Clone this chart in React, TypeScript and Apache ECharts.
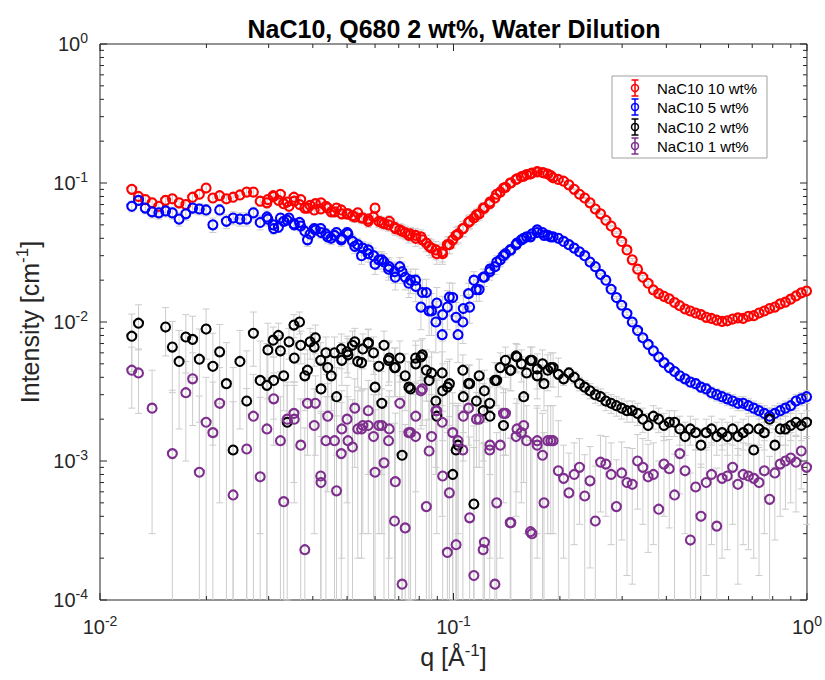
import React, { useEffect, useRef } from 'react';
import * as echarts from 'echarts';

// q grid of the long-distance configuration (Å^-1)
const qLow = [0.0123, 0.01285, 0.01343, 0.01404, 0.01467, 0.01533, 0.01602, 0.01674, 0.01749, 0.01828,
  0.0191, 0.01996, 0.02086, 0.0218, 0.02278, 0.0238, 0.02488, 0.026, 0.02716, 0.02839,
  0.02966, 0.031, 0.03239, 0.03385, 0.03537, 0.03697, 0.03863, 0.04037, 0.04219, 0.04408,
  0.04607, 0.04814, 0.05031, 0.05257, 0.05494, 0.05741, 0.05999, 0.06269, 0.06551, 0.06846,
  0.07154, 0.07476, 0.07812, 0.08164, 0.08531, 0.08915, 0.09317, 0.09736, 0.1017, 0.1063,
  0.1111, 0.1161, 0.1213, 0.1268, 0.1325, 0.1385, 0.1447, 0.1512, 0.158, 0.1651,
  0.1725, 0.1803, 0.1884];

// q grid of the short-distance configuration (Å^-1)
const qHigh = [0.02985, 0.03089, 0.03197, 0.03309, 0.03425, 0.03545, 0.03669, 0.03797, 0.0393, 0.04067,
  0.0421, 0.04357, 0.0451, 0.04668, 0.04831,
  0.05, 0.0518, 0.0536, 0.0554, 0.0574, 0.0594, 0.0615, 0.0636, 0.0658, 0.0681,
  0.0705, 0.073, 0.0756, 0.0782, 0.0809, 0.0838, 0.0867, 0.0897, 0.0929, 0.0961,
  0.0995, 0.103, 0.1066, 0.1103, 0.1142, 0.1182, 0.1223, 0.1266, 0.131, 0.1356,
  0.1403, 0.1453, 0.1503, 0.1556, 0.161, 0.1667, 0.1725, 0.1786, 0.1848, 0.1913,
  0.198, 0.2049, 0.2121, 0.2195, 0.2272, 0.2351, 0.2433, 0.2519, 0.2607, 0.2698,
  0.2792, 0.289, 0.2991, 0.3096, 0.3204, 0.3317, 0.3433, 0.3553, 0.3677, 0.3806,
  0.3939, 0.4077, 0.422, 0.4367, 0.452, 0.4678, 0.4842, 0.5012, 0.5187, 0.5369,
  0.5556, 0.5751, 0.5952, 0.6161, 0.6376, 0.6599, 0.683, 0.7069, 0.7317, 0.7573,
  0.7838, 0.8112, 0.8396, 0.869, 0.8994, 0.9309, 0.9635, 0.9972];

// Intensities (cm^-1); null = point not shown on the log axis
const redLow = [0.09, 0.08, 0.076, 0.072, 0.068, 0.075, 0.077, 0.072, 0.07, 0.079,
  0.083, 0.092, 0.078, 0.081, 0.077, 0.079, 0.082, 0.086, 0.086, 0.074,
  0.072, 0.08, 0.083, 0.073, 0.079, 0.076, 0.066, 0.064, 0.072, 0.066,
  0.062, 0.064, 0.06, 0.057, 0.056, 0.053, 0.066, 0.052, 0.05, 0.047,
  0.045, 0.042, 0.042, 0.039, 0.035, 0.033, 0.031, 0.036, 0.042, 0.047,
  0.053, 0.059, 0.066, 0.073, 0.083, 0.092, 0.1, 0.107, 0.112, 0.116,
  0.121, 0.118, 0.113];
const redHigh = [0.076, 0.081, 0.075, 0.071, 0.068, 0.074, 0.07, 0.066, 0.069, 0.071,
  0.065, 0.068, 0.062, 0.066, 0.06,
  0.06, 0.058, 0.061, 0.056, 0.055, 0.057, 0.053, 0.051, 0.053, 0.048,
  0.046, 0.044, 0.043, 0.04, 0.041, 0.037, 0.034, 0.031, 0.032, 0.036,
  0.039, 0.043, 0.047, 0.052, 0.056, 0.06, 0.066, 0.071, 0.078, 0.086,
  0.093, 0.1, 0.106, 0.111, 0.115, 0.118, 0.12, 0.119, 0.116,
  0.109, 0.106, 0.103, 0.097, 0.09, 0.083, 0.078, 0.072, 0.065, 0.06,
  0.054, 0.049, 0.044, 0.038, 0.033, 0.028, 0.024, 0.021, 0.019, 0.017,
  0.016, 0.0153, 0.0147, 0.0138, 0.0131, 0.0124, 0.012, 0.0116, 0.0113, 0.0108,
  0.0106, 0.0103, 0.0101, 0.0102, 0.0105, 0.0107, 0.0106, 0.011, 0.0111, 0.0116,
  0.012, 0.0125, 0.0128, 0.0135, 0.0139, 0.0146, 0.0154, 0.0162, 0.0167];

const blueLow = [0.068, 0.075, 0.066, 0.062, 0.061, 0.063, 0.061, 0.055, 0.06, 0.066,
  0.065, 0.064, 0.05, 0.064, 0.053, 0.056, 0.055, 0.055, 0.061, 0.052,
  0.057, 0.047, 0.056, 0.054, 0.051, 0.049, 0.039, 0.047, 0.044, 0.041,
  0.042, 0.039, 0.043, 0.035, 0.03, 0.033, 0.026, 0.028, 0.024, 0.021,
  0.023, 0.019, 0.02, 0.0163, 0.012, 0.01, 0.0113, 0.0151, 0.0108, 0.01,
  0.0128, 0.0171, 0.021, 0.024, 0.027, 0.03, 0.033, 0.037, 0.04, 0.041,
  0.044, 0.042, 0.041];
const blueHigh = [0.055, 0.05, 0.048, 0.053, 0.056, 0.05, 0.052, 0.045, 0.043, 0.046,
  0.047, 0.043, 0.04, 0.044, 0.04,
  0.044, 0.038, 0.036, 0.034, 0.031, 0.03, 0.028, 0.027, 0.025, 0.023,
  0.025, 0.021, 0.02, 0.018, 0.0128, 0.0163, 0.012, 0.0137, 0.0081, 0.0128,
  0.015, 0.0081, 0.0125, 0.016, 0.02, 0.0171, 0.021, 0.023, 0.025, 0.028,
  0.031, 0.033, 0.036, 0.039, 0.041, 0.043, 0.046, 0.044, 0.042,
  0.041, 0.04, 0.038, 0.036, 0.034, 0.032, 0.03, 0.027, 0.025, 0.022,
  0.02, 0.0172, 0.015, 0.0132, 0.0115, 0.01, 0.0087, 0.0077, 0.0069, 0.0062,
  0.0056, 0.0051, 0.0047, 0.0044, 0.0041, 0.0039, 0.0037, 0.0036, 0.0034, 0.0033,
  0.0031, 0.003, 0.0029, 0.0028, 0.0027, 0.0026, 0.0026, 0.0025, 0.0024, 0.0023,
  0.0022, 0.0021, 0.0022, 0.0023, 0.0024, 0.0025, 0.0027, 0.0028, 0.0029];

const blackLow = [0.0079, 0.0098, null, null, null, 0.0092, 0.0066, 0.0052, 0.0078, 0.0075,
  0.0054, 0.0089, 0.0048, 0.0061, 0.0036, 0.0012, 0.0052, 0.0027, 0.0083, 0.0038,
  0.0035, 0.0038, 0.0062, 0.0019, 0.0095, 0.0068, 0.0045, 0.0066, 0.0033, 0.0047,
  0.006, 0.0064, 0.0058, 0.0072, 0.0051, 0.0071, 0.0034, 0.0026, 0.0053, 0.0047,
  0.0011, 0.0034, 0.0055, 0.0058, 0.0038, 0.0027, 0.0032, 0.0036, 0.0012, 0.0045,
  0.0036, 0.0027, 0.0023, 0.0021, 0.0038, 0.0018, 0.0045, 0.0056, 0.0029, 0.0053,
  0.0041, 0.0036, 0.0047];
const blackHigh = [0.0063, 0.0074, 0.008, 0.0041, 0.0072, 0.0055, 0.01, 0.0041, 0.0072, 0.0077,
  0.0053, 0.006, 0.0041, 0.0029, 0.0053,
  0.0061, 0.0068, 0.0052, 0.0064, 0.007, 0.006, 0.0048, 0.0068, 0.0055, 0.0047,
  0.0055, 0.0041, 0.0033, 0.005, 0.0056, 0.0045, 0.0043, 0.0021, 0.0043, 0.0034,
  0.0008, 0.0013, 0.0029, 0.0036, 0.00049, 0.0041, 0.0032, 0.0026, 0.0038, 0.0047,
  0.0053, 0.0045, 0.0057, 0.005, 0.0043, 0.0053, 0.0046, 0.005, 0.0045, 0.0047,
  0.0042, 0.0039, 0.0043, 0.004, 0.0036, 0.0034, 0.0032, 0.003, 0.0029, 0.0027,
  0.0026, 0.0025, 0.0024, 0.0023, 0.0023, 0.0022, 0.002, 0.0018, 0.0021, 0.002,
  0.0018, 0.0019, 0.0019, 0.0017, 0.0015, 0.0017, 0.0016, 0.0013, 0.0016, 0.0017,
  0.0015, 0.0016, 0.0015, 0.0017, 0.0015, 0.0016, 0.0017, 0.0012, 0.0017, 0.0016,
  0.002, 0.0013, 0.0017, 0.0017, 0.0018, 0.0019, 0.0018, 0.0019];

const purpleLow = [0.0045, 0.0043, null, 0.0024, null, null, 0.00113, null, 0.0031, 0.0039,
  0.00083, 0.0019, 0.0016, 0.0026, null, 0.00057, null, 0.00122, 0.0021, 0.00077,
  0.0017, 0.0028, 0.0014, 0.002, 0.0022, 0.0013, 0.0026, 0.0018, 0.0007, 0.0021,
  0.0014, 0.00113, 0.0014, 0.0024, 0.0017, 0.0023, 0.00083, 0.0018, 0.0014, 0.00071,
  0.00013, 0.0016, 0.0015, 0.0033, 0.00118, 0.0023, 0.00078, 0.00059, 0.00025, 0.0012,
  0.00039, 0.002, 0.00023, 0.0013, 0.0005, 0.0022, 0.00036, 0.0017, 0.0018, 0.00031,
  0.0014, 0.0005, 0.0014];
const purpleHigh = [null, null, null, 0.00051, null, 0.002, null, 0.00023, null, 0.0026,
  0.00078, 0.0014, null, 0.00061, 0.0017,
  0.002, 0.00126, 0.0017, 0.0018, 0.0018, 0.0015, 0.0018, 0.00097, 0.0017, 0.00037,
  0.0026, 0.00033, 0.0016, 0.0021, 0.0032, 0.00047, 0.0015, 0.0023, 0.0019, 0.00022,
  0.0016, 0.0014, 0.0021, 0.0024, 0.00015, 0.002, 0.00026, 0.0012, 0.00013, 0.0013,
  0.0022, 0.00036, 0.0015, 0.0016, 0.0014, 0.0003, 0.0013, 0.0011, 0.0014, 0.0014,
  0.00085, 0.00075, 0.00059, 0.0008, 0.0009, 0.00056, 0.00072, 0.00037, 0.00098, 0.00095,
  0.0008, 0.00047, 0.00082, 0.0007, 0.00068, 0.001, 0.0009, 0.00077, 0.0008, 0.00045,
  0.00095, 0.00088, 0.00057, 0.00113, 0.00085, 0.00027, 0.00065, 0.0004, 0.0007, 0.0008,
  0.00034, 0.00075, 0.00078, 0.0009, 0.00068, 0.0008, 0.00078, 0.00075, 0.0007, 0.00085,
  0.00053, 0.00082, 0.00095, 0.001, 0.00105, 0.00098, 0.00118, 0.0009];

// absolute uncertainty (cm^-1) by q band: q < 0.03, < 0.1, < 0.2, <= 1
const sigmaBandEdges = [0.03, 0.1, 0.2, 1.01];
const sigmaRed = [0.006, 0.005, 0.006, 0.0006];
const sigmaBlue = [0.006, 0.004, 0.003, 0.0003];
const sigmaBlack = [0.0035, 0.0018, 0.0013, 0.0004];
const sigmaPurple = [0.0021, 0.0015, 0.0011, 0.00055];

const seriesNames = ['NaC10 10 wt%', 'NaC10 5 wt%', 'NaC10 2 wt%', 'NaC10 1 wt%'];
const seriesColors = ['#ff0000', '#0000ff', '#000000', '#7e2f8e'];

const FONT = '"Liberation Sans", Arial, Helvetica, sans-serif';
const AXIS_COLOR = '#262626';

function sigmaFor(q: number, sig: number[]) {
  for (let b = 0; b < sigmaBandEdges.length; b++) if (q < sigmaBandEdges[b]) return sig[b];
  return sig[sig.length - 1];
}

function pairs(low: (number | null)[], high: (number | null)[]) {
  const out: number[][] = [];
  qLow.forEach((q, i) => { const v = low[i]; if (v != null) out.push([q, v]); });
  qHigh.forEach((q, i) => { const v = high[i]; if (v != null) out.push([q, v]); });
  return out;
}

export default function App() {
  const ref = useRef<HTMLDivElement>(null);

  useEffect(() => {
    document.body.style.margin = '0';
    const chart = echarts.init(ref.current as HTMLDivElement, null, { renderer: 'svg' });

    const defs = [
      { name: seriesNames[0], color: seriesColors[0], data: pairs(redLow, redHigh), sigma: sigmaRed },
      { name: seriesNames[1], color: seriesColors[1], data: pairs(blueLow, blueHigh), sigma: sigmaBlue },
      { name: seriesNames[2], color: seriesColors[2], data: pairs(blackLow, blackHigh), sigma: sigmaBlack },
      { name: seriesNames[3], color: seriesColors[3], data: pairs(purpleLow, purpleHigh), sigma: sigmaPurple },
    ];

    const errData: number[][] = [];
    defs.forEach((d) => {
      d.data.forEach(([q, v]) => {
        const s = sigmaFor(q, d.sigma);
        errData.push([q, Math.max(v - s, 1e-7), v + s]);
      });
    });

    const xTicks: number[][] = [];
    [0.01, 0.1].forEach((dec) => { for (let m = 1; m <= 9; m++) xTicks.push([dec * m, 0.01, m === 1 ? 1 : 0]); });
    xTicks.push([1, 0.01, 1]);
    const yTicks: number[][] = [];
    [1e-4, 1e-3, 1e-2, 1e-1].forEach((dec) => { for (let m = 1; m <= 9; m++) yTicks.push([0.1, dec * m, m === 1 ? 1 : 0]); });
    yTicks.push([0.1, 1, 1]);

    const tickStyle = { stroke: AXIS_COLOR, lineWidth: 1 };

    const labelFmt = (v: number) => {
      const e = Math.round(Math.log10(v));
      return `{b|10}{s|${e}}`;
    };
    const labelRich = {
      b: { fontSize: 20, fontFamily: FONT, color: AXIS_COLOR },
      s: { fontSize: 14, fontFamily: FONT, color: AXIS_COLOR, padding: [0, 0, 12, 0] },
    };

    const option: any = {
      animation: false,
      backgroundColor: '#ffffff',
      title: {
        text: 'NaC10, Q680 2 wt%, Water Dilution',
        left: 449,
        top: 11,
        textAlign: 'center',
        textStyle: { fontFamily: FONT, fontSize: 25, fontWeight: 'bold', color: '#000' },
      },
      grid: { left: 100, top: 44, right: 17, bottom: 80, show: true, borderColor: AXIS_COLOR, borderWidth: 1, backgroundColor: 'transparent' },
      xAxis: {
        type: 'log', logBase: 10, min: 0.01, max: 1,
        axisLine: { show: false }, axisTick: { show: false }, splitLine: { show: false },
        axisLabel: { formatter: labelFmt, rich: labelRich, margin: 14, showMinLabel: true, showMaxLabel: true },
        name: '{a|q [Å}{s|-1}{a|]}',
        nameLocation: 'middle',
        nameGap: 41,
        nameTextStyle: {
          rich: {
            a: { fontSize: 25, fontFamily: FONT, color: AXIS_COLOR },
            s: { fontSize: 17, fontFamily: FONT, color: AXIS_COLOR, padding: [0, 0, 14, 0] },
          },
        },
      },
      yAxis: {
        type: 'log', logBase: 10, min: 0.0001, max: 1,
        axisLine: { show: false }, axisTick: { show: false }, splitLine: { show: false },
        axisLabel: { formatter: labelFmt, rich: labelRich, margin: 12, showMinLabel: true, showMaxLabel: true },
        name: '{a|Intensity [cm}{s|-1}{a|]}',
        nameLocation: 'middle',
        nameGap: 50,
        nameRotate: 90,
        nameTextStyle: {
          rich: {
            a: { fontSize: 25, fontFamily: FONT, color: AXIS_COLOR },
            s: { fontSize: 17, fontFamily: FONT, color: AXIS_COLOR, padding: [0, 0, 14, 0] },
          },
        },
      },
      series: [
        {
          type: 'custom',
          name: 'error bars',
          silent: true,
          z: 1,
          data: errData,
          renderItem: (params: any, api: any) => {
            const cs = params.coordSys;
            const q = api.value(0);
            const top = api.coord([q, api.value(2)]);
            const bot = api.coord([q, api.value(1)]);
            const yMinPx = cs.y, yMaxPx = cs.y + cs.height;
            const y1 = Math.max(top[1], yMinPx);
            const y2 = Math.min(bot[1], yMaxPx);
            const style = { stroke: '#cccccc', lineWidth: 1 };
            const cw = 3.5;
            const children: any[] = [
              { type: 'line', shape: { x1: top[0], y1, x2: top[0], y2 }, style },
            ];
            if (top[1] >= yMinPx) children.push({ type: 'line', shape: { x1: top[0] - cw, y1: top[1], x2: top[0] + cw, y2: top[1] }, style });
            if (bot[1] <= yMaxPx) children.push({ type: 'line', shape: { x1: bot[0] - cw, y1: bot[1], x2: bot[0] + cw, y2: bot[1] }, style });
            return { type: 'group', children };
          },
        },
        ...defs.map((d) => ({
          type: 'scatter',
          name: d.name,
          data: d.data,
          symbol: 'circle',
          symbolSize: 9,
          z: 3,
          silent: true,
          itemStyle: { color: 'rgba(255,255,255,0)', borderColor: d.color, borderWidth: 2.1, opacity: 1 },
        })),
        {
          type: 'custom',
          name: 'x ticks',
          silent: true,
          z: 5,
          data: xTicks,
          renderItem: (params: any, api: any) => {
            const cs = params.coordSys;
            const x = api.coord([api.value(0), 0.01])[0];
            const len = api.value(2) === 1 ? 7 : 4;
            return {
              type: 'group', children: [
                { type: 'line', shape: { x1: x, y1: cs.y + cs.height, x2: x, y2: cs.y + cs.height - len }, style: tickStyle },
                { type: 'line', shape: { x1: x, y1: cs.y, x2: x, y2: cs.y + len }, style: tickStyle },
              ],
            };
          },
        },
        {
          type: 'custom',
          name: 'y ticks',
          silent: true,
          z: 5,
          data: yTicks,
          renderItem: (params: any, api: any) => {
            const cs = params.coordSys;
            const y = api.coord([0.1, api.value(1)])[1];
            const len = api.value(2) === 1 ? 7 : 4;
            return {
              type: 'group', children: [
                { type: 'line', shape: { x1: cs.x, y1: y, x2: cs.x + len, y2: y }, style: tickStyle },
                { type: 'line', shape: { x1: cs.x + cs.width, y1: y, x2: cs.x + cs.width - len, y2: y }, style: tickStyle },
              ],
            };
          },
        },
      ],
      graphic: [
        {
          type: 'rect', z: 100,
          shape: { x: 612, y: 76, width: 155, height: 82 },
          style: { fill: '#ffffff', stroke: '#a0a0a0', lineWidth: 1 },
        },
        ...defs.map((d, i) => ({
          type: 'group', x: 635, y: [88, 107, 127, 146][i], z: 101,
          children: [
            { type: 'line', z: 101, shape: { x1: 0, y1: -8, x2: 0, y2: 8 }, style: { stroke: d.color, lineWidth: 1.5 } },
            { type: 'line', z: 101, shape: { x1: -3.5, y1: -8, x2: 3.5, y2: -8 }, style: { stroke: d.color, lineWidth: 1.5 } },
            { type: 'line', z: 101, shape: { x1: -3.5, y1: 8, x2: 3.5, y2: 8 }, style: { stroke: d.color, lineWidth: 1.5 } },
            { type: 'circle', z: 101, shape: { cx: 0, cy: 0, r: 3.5 }, style: { fill: 'none', stroke: d.color, lineWidth: 1.5 } },
            { type: 'text', z: 101, x: 22, y: 0, style: { text: d.name, fontSize: 15, fontFamily: FONT, fill: '#000', align: 'left', verticalAlign: 'middle' } },
          ],
        })),
      ],
    };

    chart.setOption(option);
    return () => chart.dispose();
  }, []);

  return <div ref={ref} style={{ width: 825, height: 680 }} />;
}
